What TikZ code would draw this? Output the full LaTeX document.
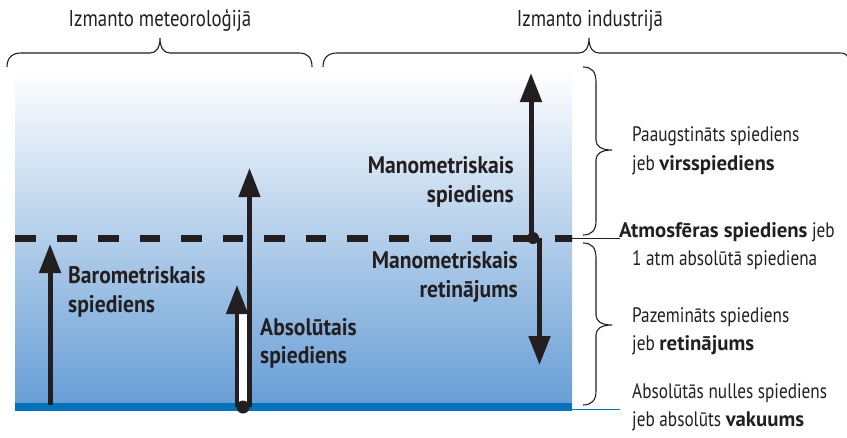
\documentclass[tikz,border=0pt]{standalone}
\usepackage{fontspec}
\setmainfont{PT Sans}[FakeStretch=0.82, BoldFeatures={FakeStretch=0.9}]
\newfontfamily\nbfam{PT Sans}[FakeStretch=0.82, BoldFeatures={FakeStretch=0.99}]
\newcommand{\nbold}[1]{{\nbfam\bfseries #1}}
\usetikzlibrary{arrows.meta}
\definecolor{ink}{RGB}{35,31,32}
\definecolor{skybot}{RGB}{104,158,214}
\definecolor{band}{RGB}{0,115,188}
\begin{document}
\begin{tikzpicture}[x=1pt,y=-1pt,
  lbl/.style={font=\fontsize{24}{29}\selectfont\bfseries, text=ink, inner sep=0pt},
  note/.style={font=\fontsize{21}{28}\selectfont, text=ink, inner sep=0pt, anchor=base west},
  bracepath/.style={draw=ink, line width=1.1pt},
  bigarrow/.style={draw=ink, line width=5pt, -{Triangle[length=29pt,width=21pt]}},
  dot/.style={circle, fill=ink, inner sep=0pt, minimum size=13pt}
]
\useasboundingbox (0,0) rectangle (847,437);

% background field
\shade[top color=white, bottom color=skybot] (15,69) rectangle (572,404);
\fill[band] (15,403) rectangle (572,411);
\draw[band, line width=1pt] (572,409) -- (620,409);
\draw[ink, line width=0.9pt] (572,238) -- (620,238);
\begin{scope}
\clip (15,200) rectangle (572,260);
\draw[ink, line width=7pt, dash pattern=on 20.5pt off 21pt] (15,238) -- (580,238);
\end{scope}

% top braces
\draw[bracepath] (7,67) .. controls (7,58) and (12,53) .. (21,53) -- (150,53)
  .. controls (156,53) and (160,48) .. (160,38)
  .. controls (160,48) and (164,53) .. (170,53) -- (299,53)
  .. controls (308,53) and (312,58) .. (312,67);
\draw[bracepath] (323,67) .. controls (323,58) and (328,53) .. (337,53) -- (579,53)
  .. controls (585,53) and (589,48) .. (589,38)
  .. controls (589,48) and (593,53) .. (599,53) -- (840,53)
  .. controls (844,53) and (846,54) .. (848,57);

% right braces
\draw[bracepath] (583,67) .. controls (592,67) and (596,72) .. (596,82) -- (596,140)
  .. controls (596,146) and (601,150) .. (612,150)
  .. controls (601,150) and (596,154) .. (596,160) -- (596,221)
  .. controls (596,230) and (592,235) .. (583,235);
\draw[bracepath] (583,243) .. controls (592,243) and (596,248) .. (596,258) -- (596,315)
  .. controls (596,321) and (601,325) .. (612,325)
  .. controls (601,325) and (596,329) .. (596,335) -- (596,391)
  .. controls (596,400) and (592,405) .. (583,405);

% barometric arrow
\coordinate (b0) at (50,405);
\coordinate (b1) at (50,244);
\draw[bigarrow] (b0) -- (b1);

% absolute pressure double arrow
\fill[white] (237,313) rectangle (249.5,405);
\coordinate (aR0) at (249.5,407);
\coordinate (aR1) at (249.5,168);
\coordinate (aL0) at (237,407);
\coordinate (aL1) at (237,285);
\draw[bigarrow, line width=4.5pt] (aR0) -- (aR1);
\draw[bigarrow, line width=4.5pt] (aL0) -- (aL1);
\node[dot] (adot) at (243,407) {};

% manometric arrows
\coordinate (mU0) at (531,238);
\coordinate (mU1) at (531,73);
\coordinate (mD0) at (539.5,238);
\coordinate (mD1) at (539.5,365);
\draw[bigarrow] (mU0) -- (mU1);
\draw[bigarrow] (mD0) -- (mD1);
\node[dot, minimum size=12pt] (mdot) at (533,238) {};

% titles
\node[note, anchor=base, font=\fontsize{23}{28}\selectfont] (t1) at (160,26) {Izmanto meteoroloģijā};
\node[note, anchor=base, font=\fontsize{23}{28}\selectfont] (t2) at (590,26) {Izmanto industrijā};

% bold labels
\node[lbl, anchor=base west] (baro1) at (68,283) {Barometriskais};
\node[lbl, anchor=base west] (baro2) at (68,312) {spiediens};
\node[lbl, anchor=base west] (abs1) at (260,335) {Absolūtais};
\node[lbl, anchor=base west] (abs2) at (260,363) {spiediens};
\node[lbl, anchor=base east] (man1) at (514,173) {Manometriskais};
\node[lbl, anchor=base east] (man2) at (514,202) {spiediens};
\node[lbl, anchor=base east] (ret1) at (518,268) {Manometriskais};
\node[lbl, anchor=base east] (ret2) at (518,297) {retinājums};

% right notes
\node[note] (r1a) at (632,141) {Paaugstināts spiediens};
\node[note] (r1b) at (632,170) {jeb \nbold{virsspiediens}};
\node[note] (r2a) at (619,237) {\nbold{Atmosfēras spiediens} jeb};
\node[note] (r2b) at (632,265) {1 atm absolūtā spiediena};
\node[note] (r3a) at (632,322) {Pazemināts spiediens};
\node[note] (r3b) at (632,350) {jeb \nbold{retinājums}};
\node[note] (r4a) at (632,398) {Absolūtās nulles spiediens};
\node[note] (r4b) at (632,426) {jeb absolūts \nbold{vakuums}};
\end{tikzpicture}
\end{document}
